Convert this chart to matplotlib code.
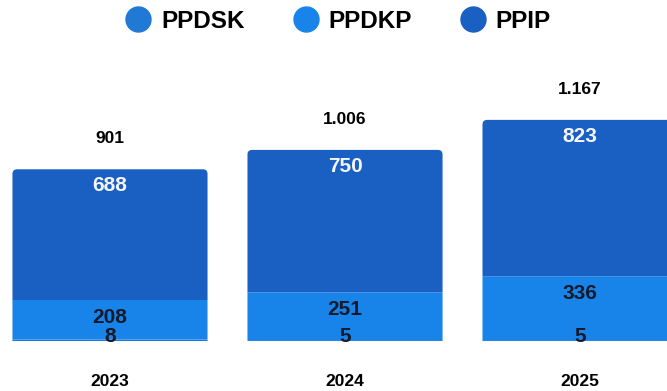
import matplotlib
matplotlib.use("Agg")
import matplotlib.pyplot as plt
from matplotlib.lines import Line2D
from matplotlib.patches import PathPatch
from matplotlib.path import Path
import numpy as np

plt.rcParams['font.family'] = ['Liberation Sans', 'DejaVu Sans']

years = ["2023", "2024", "2025"]
ppdsk = [8, 5, 5]
ppdkp = [208, 251, 336]
ppip = [688, 750, 823]
totals = [901, 1006, 1167]
total_labels = ["901", "1.006", "1.167"]

c_ppdsk = "#2179d6"
c_ppdkp = "#1884ea"
c_ppip = "#1a5fc2"

fig = plt.figure(figsize=(6.67, 3.91), dpi=100)
ax = fig.add_axes([0, 0, 1, 1])
ax.set_xlim(-0.468, 2.37)
ax.set_ylim(-263, 1795)
ax.axis("off")

x = np.arange(len(years))
w = 0.83
ppdsk_a = np.array(ppdsk)
ppdkp_a = np.array(ppdkp)
ppip_a = np.array(ppip)
base = ppdsk_a + ppdkp_a
top = base + ppip_a


def top_rounded_rect(x0, x1, y0, y1, rx, ry):
    verts = [(x0, y0), (x1, y0), (x1, y1 - ry), (x1, y1), (x1 - rx, y1),
             (x0 + rx, y1), (x0, y1), (x0, y1 - ry), (x0, y0)]
    codes = [Path.MOVETO, Path.LINETO, Path.LINETO, Path.CURVE3, Path.CURVE3,
             Path.LINETO, Path.CURVE3, Path.CURVE3, Path.CLOSEPOLY]
    return Path(verts, codes)


ax.bar(x, ppdsk_a, w, color=c_ppdsk, linewidth=0, snap=False)
ax.bar(x, ppdkp_a, w, bottom=ppdsk_a, color=c_ppdkp, linewidth=0, snap=False)
# PPIP segment with slightly rounded top corners
for i in range(len(years)):
    p = top_rounded_rect(x[i] - w / 2, x[i] + w / 2, base[i], top[i], 0.02, 24)
    ax.add_patch(PathPatch(p, facecolor=c_ppip, edgecolor="none", snap=False))

for i in range(len(years)):
    # PPIP value near the top of its segment
    ax.text(x[i], top[i] - 85, str(ppip[i]), ha="center", va="center",
            fontsize=15, fontweight="bold", color="#f4f6fb")
    # PPDKP value just under the top of its segment
    ax.text(x[i], base[i] - 90, str(ppdkp[i]), ha="center",
            va="center", fontsize=15, fontweight="bold", color="#141a2a")
    # PPDSK value at the base
    ax.text(x[i], 22, str(ppdsk[i]), ha="center", va="center",
            fontsize=15, fontweight="bold", color="#141a2a")
    # Total above the bar
    ax.text(x[i], top[i] + 160, total_labels[i], ha="center", va="center",
            fontsize=12.5, fontweight="bold", color="black")
    # Year label under the bar
    ax.text(x[i], -212, years[i], ha="center", va="center",
            fontsize=12.5, fontweight="bold", color="black")

handles = [Line2D([], [], marker="o", linestyle="none", markersize=18,
                  markerfacecolor=c, markeredgecolor=c)
           for c in (c_ppdsk, c_ppdkp, c_ppip)]
fig.legend(handles, ["PPDSK", "PPDKP", "PPIP"], loc="center",
           bbox_to_anchor=(0.5075, 0.945), ncol=3, frameon=False,
           prop={"weight": "bold", "size": 17.5}, handlelength=1.0,
           handletextpad=0.45, columnspacing=2.0)

fig.savefig("out.png", dpi=100)
